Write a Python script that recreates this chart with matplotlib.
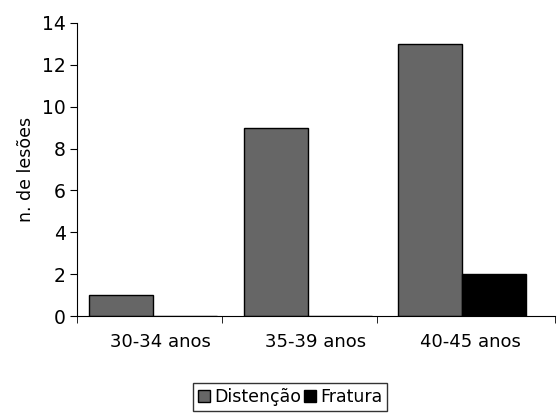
import numpy as np
import matplotlib.pyplot as plt

categories = ['30-34 anos', '35-39 anos', '40-45 anos']
distencao = [1, 9, 13]
fratura = [0, 0, 2]
series_names = ['Distenção', 'Fratura']

plt.rcParams['font.family'] = ['DejaVu Sans']

fig = plt.figure(figsize=(5.58, 4.17), dpi=100)
ax = fig.add_axes([0.138, 0.242, 0.857, 0.703])

x = np.arange(len(categories))
w = 0.414
b1 = ax.bar(x - w / 2, distencao, w, color='#666666', edgecolor='black', linewidth=1, label=series_names[0])
b2 = ax.bar(x + w / 2, fratura, w, color='black', edgecolor='black', linewidth=1, label=series_names[1])

ax.set_xlim(-0.49, 2.6)
ax.set_ylim(0, 14)
ax.set_yticks(range(0, 15, 2))
ax.set_xticks(x + 0.05)
ax.set_xticklabels(categories)
ax.tick_params(axis='x', length=0, labelsize=13, pad=12)
ax.set_xticks([-0.49, 0.45, 1.45, 2.6], minor=True)
ax.tick_params(axis='x', which='minor', length=5, direction='out')
ax.tick_params(axis='y', length=5, direction='out', labelsize=13.5, pad=3)
for s in ['top', 'right']:
    ax.spines[s].set_visible(False)
ax.set_ylabel('n. de lesões', fontsize=12.5, labelpad=5)

leg = fig.legend(handles=[b1, b2], loc='center', bbox_to_anchor=(0.52, 0.048), ncol=2,
                 fontsize=12.5, frameon=True, fancybox=False, edgecolor='black',
                 handlelength=0.7, handleheight=0.7, handletextpad=0.2, columnspacing=0.2,
                 borderpad=0.3)
leg.get_frame().set_linewidth(1)

fig.savefig('out.png', dpi=100)
